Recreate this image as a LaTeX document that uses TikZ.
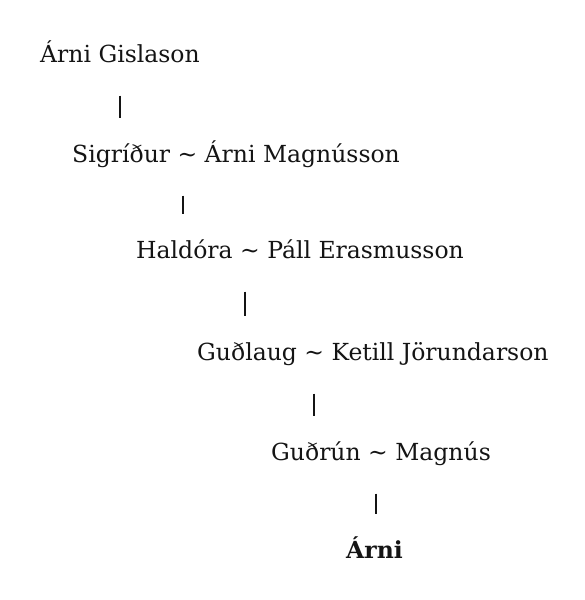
\documentclass[tikz,border=0pt]{standalone}
\usepackage{fontspec}
\setmainfont{DejaVu Serif}
\definecolor{ink}{RGB}{20,20,20}

\begin{document}
\begin{tikzpicture}[x=1pt,y=-1pt,
        person/.style={anchor=base west,inner sep=0pt,text height=17pt,text depth=5pt,
                       font=\fontsize{23.5}{28}\selectfont,text=ink},
        link/.style={draw=ink,line width=1.8pt,shorten <=28.5pt,shorten >=26.5pt}]
                \useasboundingbox[fill=white] (0,0) rectangle (585,600);

                \node[person] (g1) at (40,62) {Árni Gislason};
                \node[person] (g2) at (72,162) {Sigríður \textasciitilde{} Árni Magnússon};
                \node[person] (g3) at (136,258) {Haldóra \textasciitilde{} Páll Erasmusson};
                \node[person] (g4) at (197,360) {Guðlaug \textasciitilde{} Ketill Jörundarson};
                \node[person] (g5) at (271,460) {Guðrún \textasciitilde{} Magnús};
                \node[person,font=\fontsize{23.5}{28}\selectfont\bfseries] (g6) at (346,558) {Árni};

                \draw[link] (g1.south -| 120,0) -- (g2.north -| 120,0);
                \draw[link] (g2.south -| 183,0) -- (g3.north -| 183,0);
                \draw[link] (g3.south -| 245,0) -- (g4.north -| 245,0);
                \draw[link] (g4.south -| 314,0) -- (g5.north -| 314,0);
                \draw[link] (g5.south -| 376,0) -- (g6.north -| 376,0);
            \end{tikzpicture}
\end{document}
